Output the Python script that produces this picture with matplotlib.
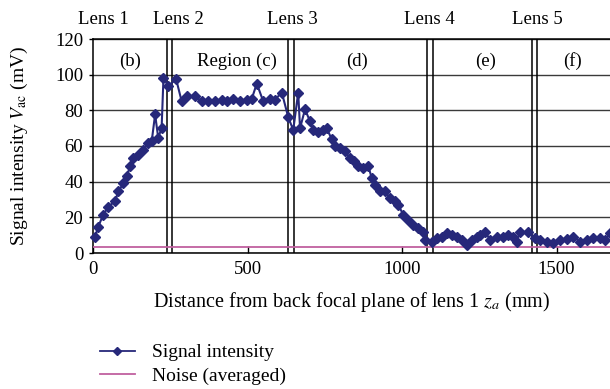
import matplotlib
matplotlib.use('Agg')
import matplotlib.pyplot as plt
from matplotlib.lines import Line2D

plt.rcParams['font.family'] = ['Liberation Serif', 'DejaVu Serif']
plt.rcParams['mathtext.fontset'] = 'stix'
plt.rcParams['font.size'] = 13.5

# distance from back focal plane of lens 1 (mm) and measured signal (mV)
z_mm = [6, 17, 33, 50, 71, 82, 98, 109, 120, 130, 147, 163, 179, 190, 201, 211,
        222, 228, 244, 269, 287, 303, 330, 352, 373, 395, 416, 433, 454, 476,
        497, 514, 530, 551, 573, 589, 611, 632, 648, 664, 670, 686, 702, 713,
        729, 745, 756, 772, 783, 799, 816, 832, 843, 859, 875, 891, 902, 913,
        929, 945, 961, 977, 988, 1004, 1020, 1037, 1053, 1069, 1075, 1096, 1112,
        1128, 1145, 1161, 1177, 1193, 1209, 1226, 1242, 1252, 1269, 1285, 1306,
        1328, 1344, 1360, 1371, 1382, 1409, 1430, 1447, 1468, 1490, 1511, 1533,
        1554, 1576, 1598, 1619, 1641, 1657, 1673]
signal_mv = [8.8, 14.8, 21.4, 26, 29, 34.5, 39, 43, 48.6, 53, 55, 58, 61.8, 62.7,
             77.7, 64.6, 70, 98, 93.7, 97.5, 85, 88, 88, 85, 85, 85, 86, 85, 86.6,
             85, 86, 86.6, 95, 85, 86.6, 86, 90, 76, 69, 90, 70, 80.5, 74, 69, 68,
             69, 70, 64, 60, 59, 57, 53, 51.4, 48.6, 47.7, 48.6, 42, 38, 34.5, 34.5,
             30.8, 29, 27, 21.4, 18.6, 15.8, 13.9, 12, 7.3, 6.4, 8.3, 9.2, 11.4, 10,
             9.2, 7.3, 4.5, 7.3, 9.2, 10, 12, 7.3, 9.2, 9.2, 10, 9.2, 6.4, 12, 11.6,
             8.3, 7.3, 6.4, 5.5, 7.3, 7.7, 9.2, 6.4, 7.3, 8.3, 8.3, 7.3, 11]
noise_mv = 3.5

# lens positions: each lens is drawn as a pair of lines (front/back surface)
lens_pairs = [(238, 256), (632, 650), (1082, 1099), (1420, 1436)]
lens_names = ['Lens 1', 'Lens 2', 'Lens 3', 'Lens 4', 'Lens 5']
lens_label_x = [32, 275, 644, 1090, 1437]
region_names = ['(b)', 'Region (c)', '(d)', '(e)', '(f)']
region_x = [120, 466, 854, 1269, 1553]

navy = '#26287a'
pink = '#c0609f'

fig = plt.figure(figsize=(6.10, 3.89), dpi=100)
ax = fig.add_axes([93 / 610, 1 - 253 / 389, (610 - 93) / 610, (253 - 39) / 389])

ax.plot(z_mm, signal_mv, color=navy, lw=1.5, marker='D', ms=5, mfc=navy, mec=navy,
        zorder=4, clip_on=False)
ax.axhline(noise_mv, color=pink, lw=1.3, zorder=3)

for a, b in lens_pairs:
    ax.axvline(a, color='black', lw=1.1, zorder=2)
    ax.axvline(b, color='black', lw=1.1, zorder=2)

for name, x in zip(lens_names, lens_label_x):
    ax.text(x, 131, name, ha='center', va='center', clip_on=False)
for name, x in zip(region_names, region_x):
    ax.text(x, 107.6, name, ha='center', va='center')

ax.set_xlim(0, 1673)
ax.set_ylim(0, 120)
ax.set_xticks([0, 500, 1000, 1500])
ax.set_yticks(range(0, 121, 20))
ax.tick_params(axis='x', direction='in', length=5, width=1, pad=6)
ax.tick_params(axis='y', direction='out', length=3, width=1, pad=4)
ax.yaxis.grid(True, color='#3a3a3a', lw=1.0)
ax.set_axisbelow(True)
for side in ['left', 'bottom', 'top']:
    ax.spines[side].set_color('black')
    ax.spines[side].set_linewidth(1.1)
ax.spines['right'].set_visible(False)

ax.set_ylabel(r'Signal intensity $V_{\mathrm{ac}}$ (mV)', fontsize=14)
ax.yaxis.set_label_coords(-0.122, 0.5)
ax.set_xlabel(r'Distance from back focal plane of lens 1 $z_a$ (mm)', fontsize=14.5)
ax.xaxis.set_label_coords(0.5, -0.175)

handles = [Line2D([], [], color=navy, lw=1.3, marker='D', ms=4.5, mfc=navy, mec=navy),
           Line2D([], [], color=pink, lw=1.3)]
fig.legend(handles, ['Signal intensity', 'Noise (averaged)'], loc='upper left',
           bbox_to_anchor=(90 / 610, 1 - 334 / 389), frameon=False, fontsize=14,
           handlelength=1.8, handletextpad=0.9, labelspacing=0.3, borderpad=0)

fig.savefig('out.png', dpi=100)
